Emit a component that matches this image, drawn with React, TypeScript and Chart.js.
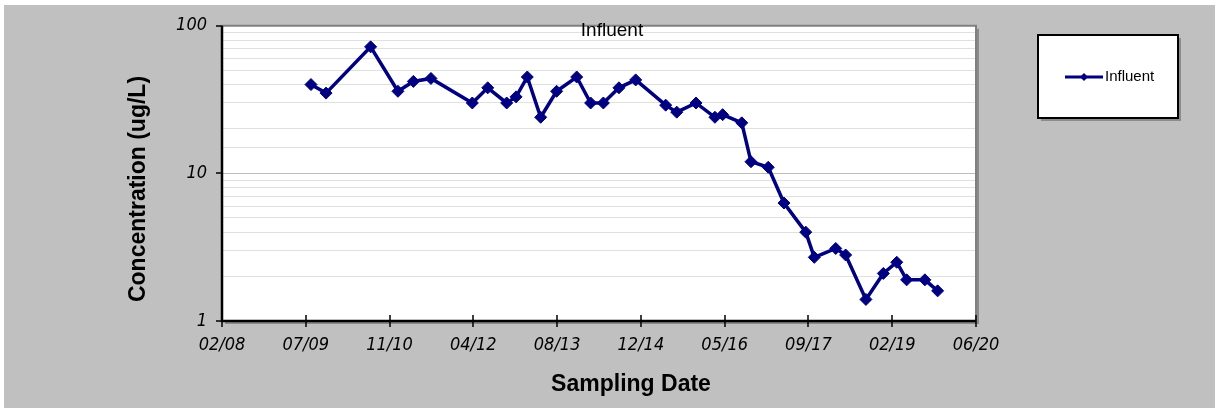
import React, { useEffect, useRef } from "react";
import { Chart, registerables } from "chart.js";

Chart.register(...registerables);

// ---- Data ----
const sampleDates: string[] = [
  "2009-08-06", "2009-11-04", "2010-07-28", "2011-01-07", "2011-04-09",
  "2011-07-23", "2012-03-26", "2012-06-26", "2012-10-17", "2012-12-12",
  "2013-02-17", "2013-05-08", "2013-08-11", "2013-12-09", "2014-03-02",
  "2014-05-17", "2014-08-18", "2014-11-26", "2015-05-24", "2015-07-29",
  "2015-11-21", "2016-03-13", "2016-04-28", "2016-08-20", "2016-10-14",
  "2017-01-25", "2017-04-29", "2017-09-06", "2017-10-27", "2018-03-04",
  "2018-05-02", "2018-08-31", "2018-12-13", "2019-03-03", "2019-05-01",
  "2019-08-18", "2019-11-02",
];
const influent: number[] = [
  40, 35, 72, 36, 42,
  44, 30, 38, 30, 33,
  45, 24, 36, 45, 30,
  30, 38, 43, 29, 26,
  30, 24, 25, 22, 12,
  11, 6.3, 4.0, 2.7, 3.1,
  2.8, 1.4, 2.1, 2.5, 1.9,
  1.9, 1.6,
];
const seriesLabel = "Influent";
const chartTitle = "Influent";
const xAxisTitle = "Sampling Date";
const yAxisTitle = "Concentration (ug/L)";
const xMinSerial = 39500; // 02/22/2008 (Excel serial)
const xMaxSerial = 44000; // 06/18/2020
const xStepDays = 500;
const yMin = 1;
const yMax = 100;
const yLabeledTicks: number[] = [1, 10, 100];

// ---- helpers ----
const EPOCH = Date.UTC(1899, 11, 30);
function toSerial(iso: string): number {
  const [y, m, d] = iso.split("-").map(Number);
  return Math.round((Date.UTC(y, m - 1, d) - EPOCH) / 86400000);
}
function serialToLabel(s: number): string {
  const dt = new Date(EPOCH + s * 86400000);
  const mm = String(dt.getUTCMonth() + 1).padStart(2, "0");
  const yy = String(dt.getUTCFullYear() % 100).padStart(2, "0");
  return `${mm}/${yy}`;
}

const NAVY = "#000080";
const GRAY_BG = "#c0c0c0";
const TICK_FONT = '"Liberation Sans Narrow", "Arial Narrow", "DejaVu Sans Condensed", "Liberation Sans", sans-serif';
const SANS = '"Liberation Sans", Arial, sans-serif';

const decorPlugin = {
  id: "decor",
  beforeDraw(chart: any) {
    const { ctx, width, height, chartArea: a } = chart;
    ctx.save();
    ctx.fillStyle = "#ffffff";
    ctx.fillRect(0, 0, width, height);
    ctx.fillStyle = GRAY_BG;
    ctx.fillRect(4, 5, width - 4, height - 5);
    // plot shadow
    ctx.fillStyle = "#8a8a8a";
    ctx.fillRect(a.left + 3, a.top + 3, a.right - a.left, a.bottom - a.top);
    ctx.fillStyle = "#ffffff";
    ctx.fillRect(a.left, a.top, a.right - a.left, a.bottom - a.top);
    ctx.restore();
  },
  afterDraw(chart: any) {
    const { ctx, chartArea: a, scales } = chart;
    const xs = scales.x;
    const ys = scales.y;
    ctx.save();
    // plot frame top/right
    ctx.strokeStyle = "#808080";
    ctx.lineWidth = 2;
    ctx.beginPath();
    ctx.moveTo(a.left, a.top);
    ctx.lineTo(a.right, a.top);
    ctx.lineTo(a.right, a.bottom);
    ctx.stroke();
    // axes
    ctx.strokeStyle = "#000000";
    ctx.lineWidth = 2.5;
    ctx.beginPath();
    ctx.moveTo(a.left, a.top);
    ctx.lineTo(a.left, a.bottom);
    ctx.lineTo(a.right, a.bottom);
    ctx.stroke();
    // tick marks
    ctx.lineWidth = 1.5;
    ctx.beginPath();
    for (let v = xMinSerial; v <= xMaxSerial; v += xStepDays) {
      const px = Math.round(xs.getPixelForValue(v));
      ctx.moveTo(px, a.bottom - 6);
      ctx.lineTo(px, a.bottom + 6);
    }
    for (const v of yLabeledTicks) {
      const py = Math.round(ys.getPixelForValue(v));
      ctx.moveTo(a.left - 6, py);
      ctx.lineTo(a.left, py);
    }
    ctx.stroke();

    // chart title
    ctx.fillStyle = "#000000";
    ctx.font = `19px ${SANS}`;
    ctx.textAlign = "center";
    ctx.textBaseline = "middle";
    ctx.fillText(chartTitle, 612, 31);

    // axis titles
    ctx.font = `bold 23px ${SANS}`;
    ctx.fillText(xAxisTitle, 631, 385);
    ctx.save();
    ctx.translate(139, 189);
    ctx.rotate(-Math.PI / 2);
    ctx.fillText(yAxisTitle, 0, 0);
    ctx.restore();

    // legend
    const lx = 1038, ly = 35, lw = 140, lh = 83;
    ctx.fillStyle = "#8c8c8c";
    ctx.fillRect(lx + 3, ly + 3, lw, lh);
    ctx.fillStyle = "#ffffff";
    ctx.fillRect(lx, ly, lw, lh);
    ctx.strokeStyle = "#000000";
    ctx.lineWidth = 2;
    ctx.strokeRect(lx, ly, lw, lh);
    const my = 77;
    ctx.strokeStyle = NAVY;
    ctx.lineWidth = 3;
    ctx.beginPath();
    ctx.moveTo(1065, my);
    ctx.lineTo(1103, my);
    ctx.stroke();
    ctx.fillStyle = NAVY;
    ctx.beginPath();
    ctx.moveTo(1084, my - 4);
    ctx.lineTo(1088, my);
    ctx.lineTo(1084, my + 4);
    ctx.lineTo(1080, my);
    ctx.closePath();
    ctx.fill();
    ctx.fillStyle = "#000000";
    ctx.font = `15px ${SANS}`;
    ctx.textAlign = "left";
    ctx.fillText(seriesLabel, 1105, my);
    ctx.restore();
  },
};

export default function App() {
  const canvasRef = useRef<HTMLCanvasElement | null>(null);

  useEffect(() => {
    document.body.style.margin = "0";
    const canvas = canvasRef.current;
    if (!canvas) return;
    const points = sampleDates.map((d, i) => ({ x: toSerial(d), y: influent[i] }));

    const chart = new Chart(canvas, {
      type: "line",
      data: {
        datasets: [
          {
            label: seriesLabel,
            data: points,
            borderColor: NAVY,
            backgroundColor: NAVY,
            borderWidth: 3.5,
            pointStyle: "rectRot",
            pointRadius: 6,
            pointBackgroundColor: NAVY,
            pointBorderColor: NAVY,
            pointBorderWidth: 1,
            tension: 0,
          },
        ],
      },
      options: {
        animation: false,
        responsive: true,
        maintainAspectRatio: false,
        layout: { padding: { left: 0, top: 25, right: 1215 - 976, bottom: 0 } },
        plugins: {
          legend: { display: false },
          title: { display: false },
          tooltip: { enabled: false },
        },
        scales: {
          x: {
            type: "linear",
            min: xMinSerial,
            max: xMaxSerial,
            afterFit: (s: any) => {
              s.height = 408 - 321;
            },
            afterBuildTicks: (s: any) => {
              const t = [];
              for (let v = xMinSerial; v <= xMaxSerial; v += xStepDays) t.push({ value: v });
              s.ticks = t;
            },
            grid: { display: false, drawTicks: false },
            border: { display: false },
            ticks: {
              padding: 14,
              maxRotation: 0,
              autoSkip: false,
              color: "#000000",
              font: { family: TICK_FONT, size: 18, style: "italic" },
              callback: (v: any) => serialToLabel(Number(v)),
            },
          },
          y: {
            type: "logarithmic",
            min: yMin,
            max: yMax,
            afterFit: (s: any) => {
              s.width = 222;
            },
            grid: {
              drawTicks: false,
              color: (c: any) => {
                const v = c.tick ? c.tick.value : 0;
                const lg = Math.log10(v);
                return Math.abs(lg - Math.round(lg)) < 1e-9 ? "#bdbdbd" : "#e0e0e0";
              },
              lineWidth: 1,
            },
            border: { display: false },
            ticks: {
              padding: 15,
              autoSkip: false,
              color: "#000000",
              font: { family: TICK_FONT, size: 18, style: "italic" },
              callback: (v: any) => (yLabeledTicks.includes(Number(v)) ? String(v) : ""),
            },
          },
        },
      },
      plugins: [decorPlugin],
    });
    return () => chart.destroy();
  }, []);

  return (
    <div style={{ position: "absolute", left: 0, top: 0, width: 1215, height: 408 }}>
      <canvas ref={canvasRef} />
    </div>
  );
}
